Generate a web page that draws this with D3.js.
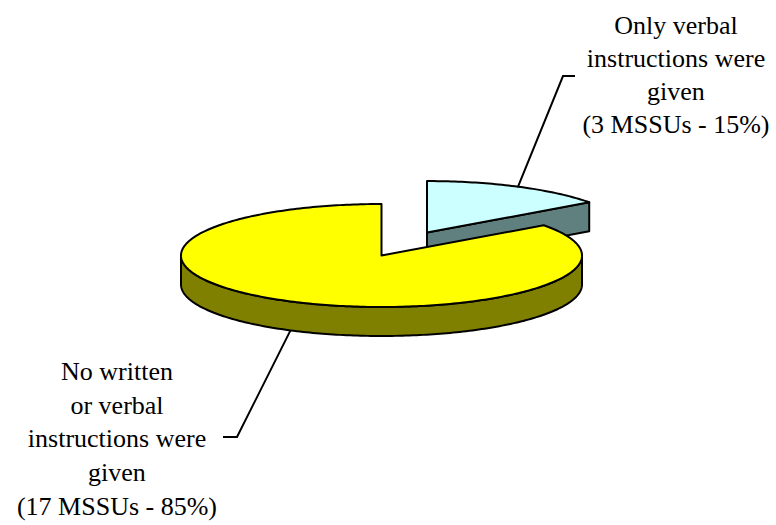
<!DOCTYPE html>
<html>
<head>
<meta charset="utf-8">
<script src="https://cdn.jsdelivr.net/npm/d3@7"></script>
<style>
  html, body { margin: 0; padding: 0; background: #fff; }
  svg { display: block; }
</style>
</head>
<body>
<div id="chart"></div>
<script>
// --- data ---
var categories = ["Only verbal instructions were given", "No written or verbal instructions were given"];
var counts = [3, 17];
var percents = [15, 85];
var labelLines = [
  ["Only verbal", "instructions were", "given", "(3 MSSUs - 15%)"],
  ["No written", "or verbal", "instructions were", "given", "(17 MSSUs - 85%)"]
];
var topColors = ["#ccffff", "#ffff00"];
var sideColors = ["#608080", "#808000"];
var explode = [0.5, 0];

!function () {
  'use strict';

  var width = 776, height = 525;
  var cx = 381.5, cy = 255.5, rx = 200.5, ry = 51.5, depth = 29;

  var svg = d3.select("#chart").append("svg")
    .attr("width", width)
    .attr("height", height);

  // unit ellipse -> pixels
  var x = d3.scaleLinear().domain([-1, 1]).range([cx - rx, cx + rx]);
  var y = d3.scaleLinear().domain([-1, 1]).range([cy - ry, cy + ry]);

  var pie = d3.pie().sort(null).startAngle(0).endAngle(2 * Math.PI);
  var arcs = pie(counts).map(function (d, i) {
    var mid = (d.startAngle + d.endAngle) / 2;
    d.i = i;
    d.mid = mid;
    d.ox = explode[i] * Math.sin(mid);
    d.oy = -explode[i] * Math.cos(mid);
    return d;
  });

  function pt(d, a, r, z) {
    return [x(d.ox + r * Math.sin(a)), y(d.oy - r * Math.cos(a)) + (z || 0)];
  }
  function samples(a0, a1) {
    var n = Math.max(2, Math.ceil(Math.abs(a1 - a0) / (Math.PI / 180)));
    return d3.range(n + 1).map(function (k) { return a0 + (a1 - a0) * k / n; });
  }
  var line = d3.line();

  var g = svg.append("g")
    .attr("stroke", "#000")
    .attr("stroke-width", 2)
    .attr("stroke-linejoin", "round");

  // back slices first
  arcs.slice().sort(function (a, b) { return Math.cos(b.mid) - Math.cos(a.mid); })
    .forEach(function (d) {
      var side = sideColors[d.i];

      // outer wall, front half only
      var w0 = Math.max(d.startAngle, Math.PI / 2);
      var w1 = Math.min(d.endAngle, 3 * Math.PI / 2);
      if (w1 > w0) {
        var s = samples(w0, w1);
        var pts = s.map(function (a) { return pt(d, a, 1, 0); })
          .concat(s.slice().reverse().map(function (a) { return pt(d, a, 1, depth); }));
        g.append("path").attr("d", line(pts) + "Z").attr("fill", side);
      }

      // cut faces facing the viewer
      [[d.startAngle, -1], [d.endAngle, 1]].forEach(function (f) {
        if (f[1] * Math.sin(f[0]) > 1e-6) {
          var pts = [pt(d, f[0], 0, 0), pt(d, f[0], 1, 0), pt(d, f[0], 1, depth), pt(d, f[0], 0, depth)];
          g.append("path").attr("d", line(pts) + "Z").attr("fill", side);
        }
      });

      // top face
      var top = [pt(d, 0, 0, 0)].concat(samples(d.startAngle, d.endAngle).map(function (a) { return pt(d, a, 1, 0); }));
      g.append("path").attr("d", line(top) + "Z").attr("fill", topColors[d.i]);
    });

  // labels and leader lines
  var labelPos = [
    { x: 676, y: 34, lineH: 33, elbow: [563, 76], end: [575, 76] },
    { x: 117, y: 380, lineH: 33.7, elbow: [237, 437], end: [223, 437] }
  ];

  arcs.forEach(function (d) {
    var p = labelPos[d.i];
    var front = Math.cos(d.mid) < 0;
    var start = pt(d, d.mid, 1, front ? depth : 0);
    svg.append("path")
      .attr("d", line([start, p.elbow, p.end]))
      .attr("fill", "none")
      .attr("stroke", "#000")
      .attr("stroke-width", 2);

    var t = svg.append("text")
      .attr("text-anchor", "middle")
      .style("font-family", "Liberation Serif")
      .style("font-size", "26px")
      .attr("fill", "#000");
    labelLines[d.i].forEach(function (s, k) {
      t.append("tspan").attr("x", p.x).attr("y", p.y + k * p.lineH).text(s);
    });
  });

}();
</script>
</body>
</html>
